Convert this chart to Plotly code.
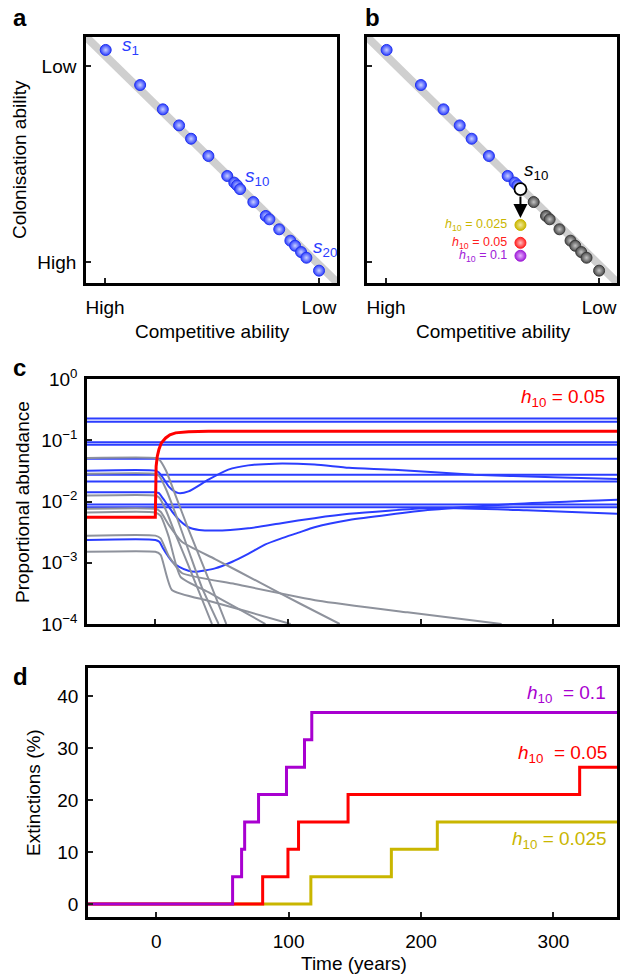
import plotly.graph_objects as go

FONT = "Liberation Sans, Arial, Helvetica, sans-serif"
FS = 19

# ---------------- data: panels a / b (normalised trait space) ----------------
comp_x = [0.003, 0.164, 0.270, 0.346, 0.402, 0.483, 0.571, 0.604, 0.617, 0.631,
          0.693, 0.751, 0.768, 0.814, 0.866, 0.888, 0.916, 0.941, 1.000]
col_y = [1.082, 0.903, 0.779, 0.697, 0.629, 0.541, 0.439, 0.405, 0.391, 0.372,
         0.306, 0.235, 0.218, 0.167, 0.109, 0.083, 0.051, 0.022, -0.044]
tradeoff_x = [-0.09, 1.09]
tradeoff_y = [1.15, -0.11]
hit_index = 9                     # s10
hit_labels = ["0.025", "0.05", "0.1"]
hit_y = [0.189, 0.098, 0.032]
arrow_tip_y = 0.225
trait_tickvals = [0, 1]
comp_ticktext = ["High", "Low"]
col_ticktext = ["High", "Low"]

# ---------------- data: panel c (proportional abundance) ----------------
t_flat = [-51.5, 348]
blue_flat = [0.227, 0.200, 0.0927, 0.0841, 0.0501, 0.0274, 0.0213, 0.00893, 0.00809]

blue_p_t = [-51.5, 0, 2.5, 6, 10, 14, 17.6, 25, 40, 55, 70, 90, 120, 146, 180, 240, 300, 348]
blue_p_v = [0.0319, 0.0319, 0.030, 0.024, 0.0176, 0.0148, 0.0137, 0.0146, 0.0227, 0.0331,
            0.0389, 0.0415, 0.0400, 0.0354, 0.0331, 0.0274, 0.0248, 0.0233]
blue_q_t = [-51.5, 0, 2.5, 6, 10, 14, 18, 25, 33, 45, 70, 95, 120, 146, 208, 280, 348]
blue_q_v = [0.0141, 0.0141, 0.0138, 0.011, 0.0083, 0.0063, 0.0050, 0.0038, 0.00344, 0.00335,
            0.00366, 0.00443, 0.00535, 0.00628, 0.0078, 0.0072, 0.0063]
blue_r_t = [-51.5, 0, 3, 6, 10, 14, 18, 25, 30, 45, 58, 70, 83, 95, 108, 120, 146, 208, 274, 348]
blue_r_v = [0.00236, 0.00236, 0.0022, 0.0017, 0.00125, 0.00098, 0.00086, 0.00074, 0.00071,
            0.00081, 0.00104, 0.0014, 0.0020, 0.0025, 0.0031, 0.0038, 0.0050, 0.0073, 0.0092, 0.0107]

red_t = [-51.5, 0, 0.6, 1.5, 2.7, 4.5, 7.8, 11, 15.3, 25, 40, 348]
red_v = [0.00555, 0.00555, 0.0375, 0.055, 0.0705, 0.09, 0.109, 0.123, 0.132, 0.138, 0.1405, 0.1405]

gray_a_t = [-51.5, 0, 3, 8, 15, 25, 40, 53.5]
gray_a_v = [0.0515, 0.0515, 0.048, 0.032, 0.013, 0.0035, 0.00055, 0.0001]
gray_b_t = [-51.5, 0, 3, 8, 15, 25, 35, 47.7]
gray_b_v = [0.0284, 0.0284, 0.026, 0.016, 0.0065, 0.0016, 0.0004, 0.0001]
gray_c_t = [-51.5, 0, 3, 8, 15, 25, 42.7]
gray_c_v = [0.0125, 0.0125, 0.0115, 0.0072, 0.003, 0.0009, 0.0001]
gray_d_t = [-51.5, 0, 4, 10, 20, 45, 80, 110, 139]
gray_d_v = [0.0076, 0.0076, 0.0068, 0.0042, 0.0022, 0.00115, 0.00046, 0.00021, 0.0001]
gray_e_t = [-51.5, 0, 4, 10, 19, 40, 60, 83]
gray_e_v = [0.0066, 0.0066, 0.0058, 0.0027, 0.00059, 0.00033, 0.00019, 0.0001]
gray_f_t = [-51.5, 0, 4, 10, 20, 60, 123, 190, 261]
gray_f_v = [0.00277, 0.00277, 0.0025, 0.0013, 0.00068, 0.00045, 0.00024, 0.000155, 0.0001]
gray_g_t = [-51.5, 0, 4, 12.5, 40, 70, 102]
gray_g_v = [0.00151, 0.00151, 0.00135, 0.00036, 0.00024, 0.000158, 0.0001]

abund_tickvals = [1, 0.1, 0.01, 0.001, 0.0001]
abund_ticktext = ["10<sup>0</sup>", "10<sup>\u22121</sup>", "10<sup>\u22122</sup>",
                  "10<sup>\u22123</sup>", "10<sup>\u22124</sup>"]
time_tickvals = [0, 100, 200, 300]

# ---------------- data: panel d (extinctions %) ----------------
ext_h01_t = [-51.5, 57.7, 64.5, 66.8, 77.3, 98.4, 112.0, 117.5, 348]
ext_h01_v = [0, 5.26, 10.53, 15.79, 21.05, 26.32, 31.58, 36.84, 36.84]
ext_h005_t = [-51.5, 80.4, 99.5, 107.5, 144.9, 319.8, 348]
ext_h005_v = [0, 5.26, 10.53, 15.79, 21.05, 26.32, 26.32]
ext_h0025_t = [-51.5, 116.8, 177.6, 212.3, 348]
ext_h0025_v = [0, 5.26, 10.53, 15.79, 15.79]
ext_tickvals = [0, 10, 20, 30, 40]

# ---------------- styles ----------------
BLUE = "#2b3dff"
GRAY_LINE = "#8e929c"
RED = "#ff0000"
PURPLE = "#a800d0"
YELLOW = "#c9b600"
TRADEOFF = "#cfcfcf"
hit_colors = [YELLOW, "#ff2020", "#a020d8"]
hit_grad = ["#f2ea9a", "#ffc0c0", "#e6b0ff"]

W, H = 620, 976


def px_x(p):
    return p / W


def px_y(p):
    return 1 - p / H


fig = go.Figure()

# ---------- panel a ----------
fig.add_trace(go.Scatter(x=tradeoff_x, y=tradeoff_y, mode="lines",
                         line=dict(color=TRADEOFF, width=8), xaxis="x", yaxis="y",
                         hoverinfo="skip"))
fig.add_trace(go.Scatter(x=comp_x, y=col_y, mode="markers", xaxis="x", yaxis="y",
                         marker=dict(size=11, color=BLUE,
                                     gradient=dict(type="radial", color="#c9d0ff"),
                                     line=dict(color="#2233ee", width=1))))

# ---------- panel b ----------
fig.add_trace(go.Scatter(x=tradeoff_x, y=tradeoff_y, mode="lines",
                         line=dict(color=TRADEOFF, width=8), xaxis="x2", yaxis="y2",
                         hoverinfo="skip"))
fig.add_trace(go.Scatter(x=comp_x[:hit_index], y=col_y[:hit_index], mode="markers",
                         xaxis="x2", yaxis="y2",
                         marker=dict(size=11, color=BLUE,
                                     gradient=dict(type="radial", color="#c9d0ff"),
                                     line=dict(color="#2233ee", width=1))))
fig.add_trace(go.Scatter(x=comp_x[hit_index + 1:], y=col_y[hit_index + 1:], mode="markers",
                         xaxis="x2", yaxis="y2",
                         marker=dict(size=11, color="#4a4a4a",
                                     gradient=dict(type="radial", color="#c4c4c4"),
                                     line=dict(color="#3a3a3a", width=1))))
fig.add_trace(go.Scatter(x=[comp_x[hit_index]], y=[col_y[hit_index]], mode="markers",
                         xaxis="x2", yaxis="y2",
                         marker=dict(size=12, color="white", line=dict(color="black", width=1.8))))
fig.add_trace(go.Scatter(x=[comp_x[hit_index]] * 3, y=hit_y, mode="markers",
                         xaxis="x2", yaxis="y2",
                         marker=dict(size=11, color=hit_colors,
                                     gradient=dict(type="radial", color=hit_grad),
                                     line=dict(color=hit_colors, width=1))))

# ---------- panel c ----------
for v in blue_flat:
    fig.add_trace(go.Scatter(x=t_flat, y=[v, v], mode="lines", xaxis="x3", yaxis="y3",
                             line=dict(color=BLUE, width=2)))
for tt, vv in [(blue_p_t, blue_p_v), (blue_q_t, blue_q_v), (blue_r_t, blue_r_v)]:
    fig.add_trace(go.Scatter(x=tt, y=vv, mode="lines", xaxis="x3", yaxis="y3",
                             line=dict(color=BLUE, width=2, shape="spline", smoothing=0.6)))
for tt, vv in [(gray_a_t, gray_a_v), (gray_b_t, gray_b_v), (gray_c_t, gray_c_v),
               (gray_d_t, gray_d_v), (gray_e_t, gray_e_v), (gray_f_t, gray_f_v),
               (gray_g_t, gray_g_v)]:
    fig.add_trace(go.Scatter(x=tt, y=vv, mode="lines", xaxis="x3", yaxis="y3",
                             line=dict(color=GRAY_LINE, width=2, shape="spline", smoothing=0.5)))
fig.add_trace(go.Scatter(x=red_t, y=red_v, mode="lines", xaxis="x3", yaxis="y3",
                         line=dict(color=RED, width=3)))

# ---------- panel d ----------
for tt, vv, c in [(ext_h0025_t, ext_h0025_v, YELLOW), (ext_h005_t, ext_h005_v, RED),
                  (ext_h01_t, ext_h01_v, PURPLE)]:
    fig.add_trace(go.Scatter(x=tt, y=vv, mode="lines", xaxis="x4", yaxis="y4",
                             line=dict(color=c, width=3, shape="hv")))

# ---------- axes ----------
frame = dict(showline=True, linecolor="black", linewidth=2.5, mirror=True,
             ticks="inside", ticklen=5, tickwidth=2, tickcolor="#222",
             showgrid=False, zeroline=False, automargin=False,
             tickfont=dict(family=FONT, size=FS, color="black"))

ab_y = [px_y(283), px_y(37)]
fig.update_layout(
    template="none",
    xaxis=dict(domain=[px_x(86), px_x(337)], range=[-0.089, 1.084], anchor="y",
               tickvals=trait_tickvals, ticktext=comp_ticktext, ticklabelstandoff=5, **frame),
    yaxis=dict(domain=ab_y, range=[-0.107, 1.148], anchor="x",
               tickvals=trait_tickvals, ticktext=col_ticktext, ticklabelstandoff=3, **frame),
    xaxis2=dict(domain=[px_x(367), px_x(617)], range=[-0.089, 1.084], anchor="y2",
                tickvals=trait_tickvals, ticktext=comp_ticktext, ticklabelstandoff=5, **frame),
    yaxis2=dict(domain=ab_y, range=[-0.107, 1.148], anchor="x2",
                tickvals=trait_tickvals, showticklabels=False, **frame),
    xaxis3=dict(domain=[px_x(87), px_x(617)], range=[-51.5, 348], anchor="y3",
                tickvals=time_tickvals, showticklabels=False, **frame),
    yaxis3=dict(domain=[px_y(624), px_y(379)], type="log", range=[-4, 0], anchor="x3",
                tickvals=abund_tickvals, ticktext=abund_ticktext, ticklabelstandoff=3, **frame),
    xaxis4=dict(domain=[px_x(88), px_x(617)], range=[-51.5, 348], anchor="y4",
                tickvals=time_tickvals, ticklabelstandoff=5, **frame),
    yaxis4=dict(domain=[px_y(917), px_y(668)], range=[-2.5, 45.4], anchor="x4",
                tickvals=ext_tickvals, ticklabelstandoff=3, **frame),
)

# ---------- annotations ----------
ann = []


def text(x, y, s, size=FS, color="black", xanchor="center", yanchor="middle",
         angle=0, xref="paper", yref="paper", bold=False):
    ann.append(dict(x=x, y=y, text=(f"<b>{s}</b>" if bold else s), showarrow=False,
                    xref=xref, yref=yref, xanchor=xanchor, yanchor=yanchor,
                    textangle=angle,
                    font=dict(family=FONT, size=size, color=color)))


# panel letters
text(px_x(11), px_y(17), "a", size=24, xanchor="left", bold=True)
text(px_x(363), px_y(17), "b", size=24, xanchor="left", bold=True)
text(px_x(11), px_y(367), "c", size=24, xanchor="left", bold=True)
text(px_x(11), px_y(676), "d", size=24, xanchor="left", bold=True)

# axis titles
text(px_x(20), px_y(160), "Colonisation ability", angle=-90)
text(px_x(212), px_y(331), "Competitive ability")
text(px_x(493), px_y(331), "Competitive ability")
text(px_x(22), px_y(502), "Proportional abundance", angle=-90)
text(px_x(33), px_y(793), "Extinctions (%)", angle=-90)
text(px_x(354), px_y(963), "Time (years)")

# species labels panel a
text(comp_x[0] + 0.065, col_y[0] + 0.02, "<i>s</i><sub>1</sub>", color=BLUE,
     xanchor="left", xref="x", yref="y")
text(comp_x[hit_index] + 0.012, col_y[hit_index] + 0.06, "<i>s</i><sub>10</sub>", color=BLUE,
     xanchor="left", xref="x", yref="y")
text(comp_x[-2] + 0.02, col_y[-2] + 0.05, "<i>s</i><sub>20</sub>", color=BLUE,
     xanchor="left", xref="x", yref="y")
# panel b
text(comp_x[hit_index] + 0.006, col_y[hit_index] + 0.09, "<i>s</i><sub>10</sub>",
     xanchor="left", xref="x2", yref="y2")
for lab, yv, c in zip(hit_labels, hit_y, hit_colors):
    text(comp_x[hit_index] - 0.055, yv, f"<i>h</i><sub>10</sub> = {lab}", size=12.5, color=c,
         xanchor="right", xref="x2", yref="y2")
ann.append(dict(x=comp_x[hit_index], y=arrow_tip_y, ax=comp_x[hit_index], ay=col_y[hit_index] - 0.03,
                xref="x2", yref="y2", axref="x2", ayref="y2", showarrow=True,
                arrowhead=2, arrowsize=1.4, arrowwidth=2, arrowcolor="black", text=""))

# panel c label
text(px_x(607), px_y(398), "<i>h</i><sub>10</sub> = 0.05", color=RED, xanchor="right")
# panel d labels
text(px_x(608), px_y(694), "<i>h</i><sub>10</sub>  = 0.1", color=PURPLE, xanchor="right")
text(px_x(609), px_y(754), "<i>h</i><sub>10</sub>  = 0.05", color=RED, xanchor="right")
text(px_x(609), px_y(840), "<i>h</i><sub>10</sub> = 0.025", color=YELLOW, xanchor="right")

fig.update_layout(
    annotations=ann,
    width=W, height=H,
    margin=dict(l=0, r=0, t=0, b=0, pad=0),
    paper_bgcolor="white", plot_bgcolor="white",
    showlegend=False,
    font=dict(family=FONT, size=FS, color="black"),
)

fig.write_html("out.html", config={"displayModeBar": False},
               post_script="document.body.style.margin='0';document.body.style.overflow='hidden';")
